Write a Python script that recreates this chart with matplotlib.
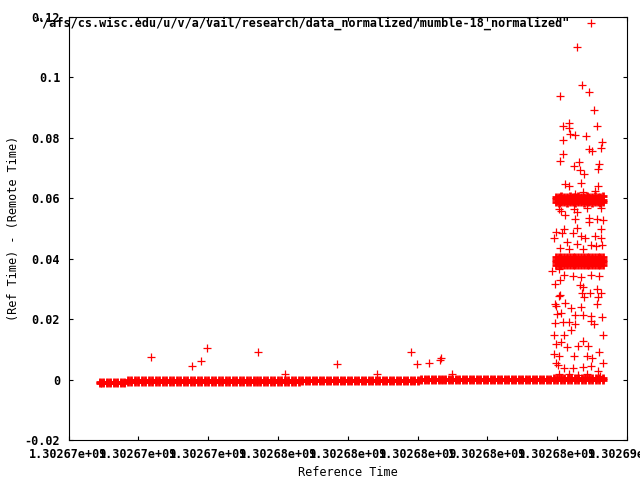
import matplotlib
matplotlib.use("Agg")
import matplotlib.pyplot as plt
from matplotlib.ticker import FormatStrFormatter

# reference time = T0 + offset (seconds)
T0 = 1.30267e9

# dense band of samples sitting near zero
band_t = [900, 1000, 1100, 1200, 1300, 1400, 1500, 1600, 1700, 1800,
          1900, 2000, 2100, 2200, 2300, 2400, 2500, 2600, 2700, 2800,
          2900, 3000, 3100, 3200, 3300, 3400, 3500, 3600, 3700, 3800,
          3900, 4000, 4100, 4200, 4300, 4400, 4500, 4600, 4700, 4800,
          4900, 5000, 5100, 5200, 5300, 5400, 5500, 5600, 5700, 5800,
          5900, 6000, 6100, 6200, 6300, 6400, 6500, 6600, 6700, 6800,
          6900, 7000, 7100, 7200, 7300, 7400, 7500, 7600, 7700, 7800,
          7900, 8000, 8100, 8200, 8300, 8400, 8500, 8600, 8700, 8800,
          8900, 9000, 9100, 9200, 9300, 9400, 9500, 9600, 9700, 9800,
          9900, 10000, 10100, 10200, 10300, 10400, 10500, 10600, 10700, 10800,
          10900, 11000, 11100, 11200, 11300, 11400, 11500, 11600, 11700, 11800,
          11900, 12000, 12100, 12200, 12300, 12400, 12500, 12600, 12700, 12800,
          12900, 13000, 13100, 13200, 13300, 13400, 13500, 13600, 13700, 13800,
          13900, 14000, 14100, 14200, 14300, 14400, 14500, 14600, 14700, 14800,
          14900, 15000, 15100, 15200, 15300]
# lower / upper rows of the band, read in stretches
band_lo = ([-0.0011] * 8 + [-0.0007] * 50 + [-0.0005] * 34 + [-0.0002] * 38
           + [0.0000] * 15)
band_hi = ([-0.0007] * 8 + [-0.0003] * 50 + [-0.0001] * 34 + [0.0002] * 38
           + [0.0004] * 15)

# the two dense bands inside the burst at the end (~0.059 and ~0.039)
burst_t = [13960, 14040, 14120, 14200, 14280, 14360, 14440, 14520, 14600,
           14680, 14760, 14840, 14920, 15000, 15080, 15160, 15240, 15300]
b59_rows = [
    [0.0605, 0.0604, 0.0606, 0.0605, 0.0604, 0.0606, 0.0605, 0.0604, 0.0606,
     0.0605, 0.0604, 0.0606, 0.0605, 0.0604, 0.0606, 0.0605, 0.0604, 0.0606],
    [0.0596, 0.0597, 0.0595, 0.0596, 0.0597, 0.0595, 0.0596, 0.0597, 0.0595,
     0.0596, 0.0597, 0.0595, 0.0596, 0.0597, 0.0595, 0.0596, 0.0597, 0.0595],
    [0.0587, 0.0586, 0.0588, 0.0587, 0.0586, 0.0588, 0.0587, 0.0586, 0.0588,
     0.0587, 0.0586, 0.0588, 0.0587, 0.0586, 0.0588, 0.0587, 0.0586, 0.0588],
]
b39_rows = [
    [0.0406, 0.0405, 0.0407, 0.0406, 0.0405, 0.0407, 0.0406, 0.0405, 0.0407,
     0.0406, 0.0405, 0.0407, 0.0406, 0.0405, 0.0407, 0.0406, 0.0405, 0.0407],
    [0.0397, 0.0398, 0.0396, 0.0397, 0.0398, 0.0396, 0.0397, 0.0398, 0.0396,
     0.0397, 0.0398, 0.0396, 0.0397, 0.0398, 0.0396, 0.0397, 0.0398, 0.0396],
    [0.0388, 0.0387, 0.0389, 0.0388, 0.0387, 0.0389, 0.0388, 0.0387, 0.0389,
     0.0388, 0.0387, 0.0389, 0.0388, 0.0387, 0.0389, 0.0388, 0.0387, 0.0389],
    [0.0379, 0.0380, 0.0378, 0.0379, 0.0380, 0.0378, 0.0379, 0.0380, 0.0378,
     0.0379, 0.0380, 0.0378, 0.0379, 0.0380, 0.0378, 0.0379, 0.0380, 0.0378],
]

# scattered samples
pts_t = [934, 2371, 3549, 3808, 3980, 5417, 6193, 7687, 8836, 9813, 9986, 10331,
         10647, 10675, 10992,
         14575, 14707, 14908, 14075, 15052, 14334, 15150, 14153, 14325, 14362,
         14518, 14822, 14172, 15282, 15244, 14919, 14994, 14172, 14075, 14612,
         14477, 15207, 15167, 14650, 14764, 14210, 14325, 14690, 15167, 14747,
         14518, 15092, 14057, 14469, 14095, 14862, 15244, 14230, 14575, 14919,
         14497, 15150, 15302, 14900, 14190, 13960, 14555, 15244, 14440, 14132,
         13923, 14670, 14805, 15092, 15244, 14268, 14575, 14957, 15110, 15282,
         14075, 14325, 14747,
         14038, 13865, 14190, 14440, 14690, 14957, 15207, 13943, 14075, 14650,
         14747, 15150, 14075, 14707, 14937, 14057, 14764, 15167, 15264, 13943,
         14210, 14402, 14690, 15150, 13960, 14000, 14115, 14518, 14747, 14957,
         15282, 13943, 14153, 14325, 14518, 14957, 15052, 13902, 14190, 14383,
         14727, 15302, 13980, 14115, 14287, 14592, 14879, 15207, 13902, 14038,
         14477, 14862, 14994, 15302, 13960, 14017, 14190, 14440, 14727, 14957,
         15167, 14057, 14325, 14592, 14862, 15224]
pts_y = [-0.0010, 0.0076, 0.0046, 0.0060, 0.0106, 0.0090, 0.0017, 0.0050, 0.0020,
         0.0090, 0.0050, 0.0055, 0.0066, 0.0073, 0.0020,
         0.1100, 0.0976, 0.0951, 0.0939, 0.0892, 0.0850, 0.0840, 0.0838, 0.0832,
         0.0812, 0.0808, 0.0805, 0.0794, 0.0785, 0.0768, 0.0763, 0.0755, 0.0748,
         0.0725, 0.0721, 0.0708, 0.0712, 0.0697, 0.0695, 0.0682, 0.0646, 0.0642,
         0.0650, 0.0642, 0.0622, 0.0615, 0.0624, 0.0566, 0.0566, 0.0558, 0.0568,
         0.0568, 0.0545, 0.0554, 0.0536, 0.0530, 0.0530, 0.0528, 0.0522, 0.0498,
         0.0489, 0.0500, 0.0498, 0.0485, 0.0485, 0.0469, 0.0474, 0.0469, 0.0476,
         0.0469, 0.0456, 0.0449, 0.0445, 0.0443, 0.0445, 0.0434, 0.0432, 0.0432,
         0.0367, 0.0359, 0.0346, 0.0344, 0.0340, 0.0346, 0.0344, 0.0317, 0.0328,
         0.0312, 0.0305, 0.0301, 0.0281, 0.0285, 0.0288, 0.0278, 0.0273, 0.0273,
         0.0287, 0.0251, 0.0253, 0.0238, 0.0240, 0.0251, 0.0242, 0.0216, 0.0220,
         0.0213, 0.0213, 0.0209, 0.0207, 0.0187, 0.0189, 0.0191, 0.0185, 0.0194,
         0.0185, 0.0149, 0.0149, 0.0163, 0.0129, 0.0149, 0.0119, 0.0126, 0.0107,
         0.0110, 0.0110, 0.0092, 0.0085, 0.0079, 0.0079, 0.0079, 0.0072, 0.0056,
         0.0056, 0.0047, 0.0039, 0.0039, 0.0043, 0.0045, 0.0030, 0.0019, 0.0017,
         0.0015, 0.0017, 0.0013]

title = '"/afs/cs.wisc.edu/u/v/a/vail/research/data_normalized/mumble-18_normalized"'

# dense parts: samples pile up so tightly there that they merge into a solid strip
dense_t = band_t * 2 + burst_t * (len(b59_rows) + len(b39_rows))
dense_y = band_lo + band_hi
for row in b59_rows + b39_rows:
    dense_y = dense_y + row

plt.rcParams['font.family'] = 'DejaVu Sans Mono'
plt.rcParams['font.weight'] = 'bold'
plt.rcParams['font.size'] = 8.5

fig = plt.figure(figsize=(6.4, 4.8), dpi=100)
ax = fig.add_axes([68.5/640, 40/480, 558.5/640, 423/480])

red = '#ff0000'
ax.plot([T0 + t for t in dense_t], dense_y, '+', color=red, markersize=5.6,
        markeredgewidth=2.0)
ax.plot([T0 + t for t in pts_t], pts_y, '+', color=red, markersize=5.6,
        markeredgewidth=0.9, label=title)

ax.set_xlim(T0, T0 + 16000)
ax.set_ylim(-0.02, 0.12)
ax.set_xticks([T0 + 2000 * i for i in range(9)])
ax.set_yticks([-0.02, 0, 0.02, 0.04, 0.06, 0.08, 0.1, 0.12])
ax.xaxis.set_major_formatter(FormatStrFormatter('%g'))
ax.yaxis.set_major_formatter(FormatStrFormatter('%g'))
ax.tick_params(direction='in', length=3, width=0.8, top=True, right=True, pad=6)

ax.set_xlabel('Reference Time', labelpad=3)
ax.set_ylabel('(Ref Time) - (Remote Time)', labelpad=3)

ax.legend(loc='upper right', bbox_to_anchor=(0.965, 1.012), frameon=False,
          markerfirst=False, handlelength=2.0, borderaxespad=0.0,
          handletextpad=0.8)

fig.savefig('out.png', dpi=100)
